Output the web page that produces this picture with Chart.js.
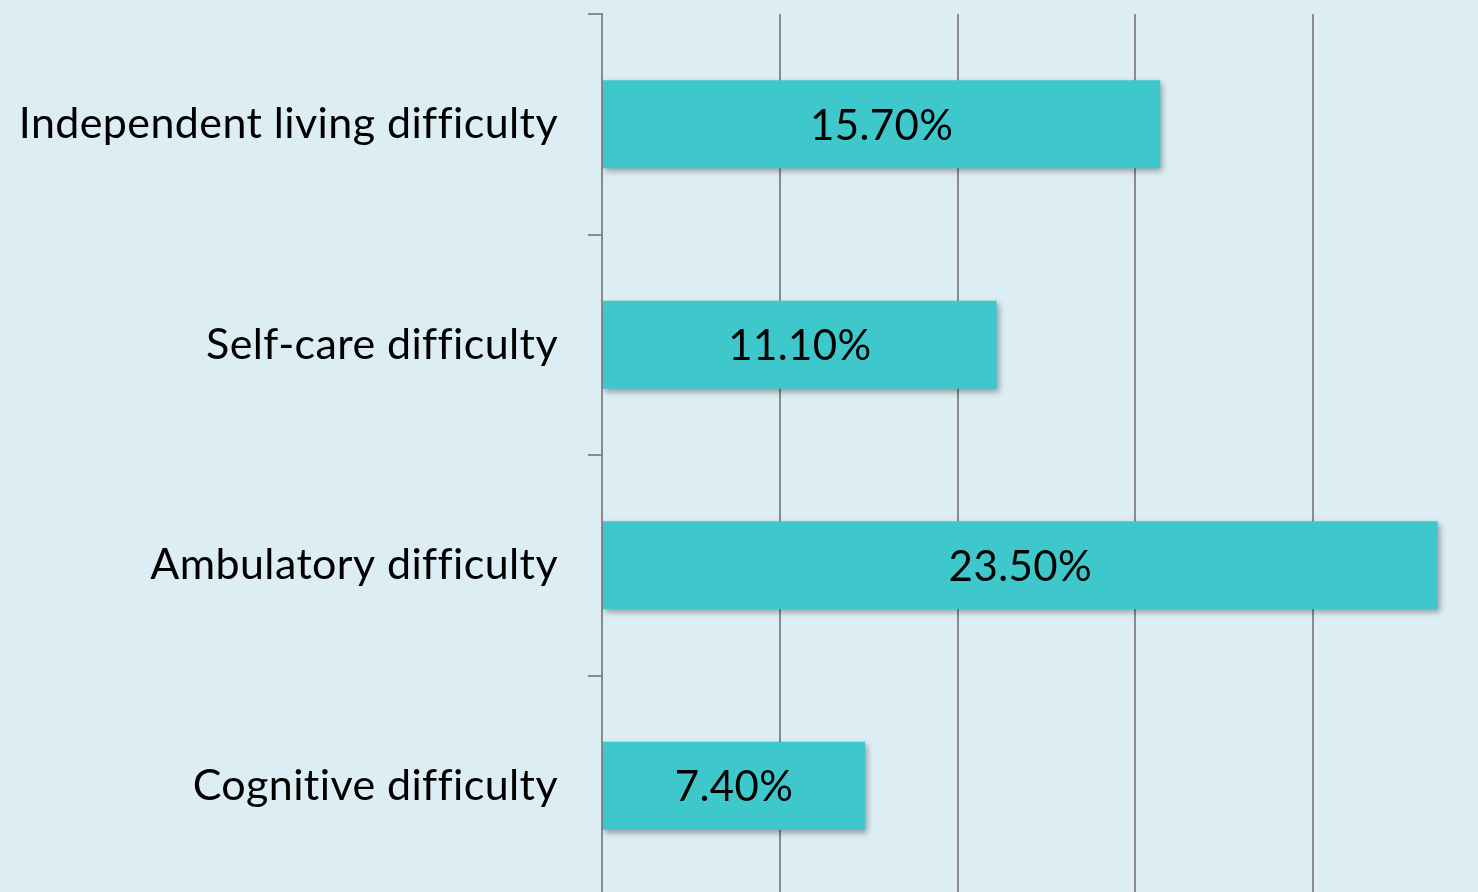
<!DOCTYPE html>
<html>
<head>
<meta charset="utf-8">
<script src="https://cdn.jsdelivr.net/npm/chart.js@4.4.1/dist/chart.umd.min.js"></script>
<style>
  html, body { margin: 0; padding: 0; background: #DCEEF4; overflow: hidden; }
  #wrap { position: absolute; left: 0; top: 0; width: 1500px; height: 900px; }
</style>
</head>
<body>
<div id="wrap"><canvas id="c" width="1500" height="900"></canvas></div>
<script>
const categories = ["Independent living difficulty", "Self-care difficulty", "Ambulatory difficulty", "Cognitive difficulty"];
const values = [15.7, 11.1, 23.5, 7.4];
const valueLabels = ["15.70%", "11.10%", "23.50%", "7.40%"];

const FONT = "Lato, 'Open Sans', sans-serif";
const SPACING = '0.4px';

const shadowPlugin = {
  id: 'barShadow',
  beforeLayout(chart) { chart.ctx.letterSpacing = SPACING; },
  beforeDraw(chart) { chart.ctx.letterSpacing = SPACING; },
  beforeDatasetsDraw(chart) {
    const ctx = chart.ctx;
    ctx.save();
    ctx.shadowColor = 'rgba(0,0,0,0.35)';
    ctx.shadowBlur = 6;
    ctx.shadowOffsetX = 2;
    ctx.shadowOffsetY = 3;
  },
  afterDatasetsDraw(chart) {
    const ctx = chart.ctx;
    ctx.restore();
    const meta = chart.getDatasetMeta(0);
    ctx.save();
    ctx.letterSpacing = SPACING;
    ctx.fillStyle = '#000';
    ctx.font = "42px " + FONT;
    ctx.textAlign = 'center';
    ctx.textBaseline = 'middle';
    meta.data.forEach((bar, i) => {
      const cx = (bar.base + bar.x) / 2;
      ctx.fillText(valueLabels[i], cx, bar.y + 2);
    });
    ctx.restore();
  }
};

new Chart(document.getElementById('c'), {
  type: 'bar',
  data: {
    labels: categories,
    datasets: [{
      data: values,
      backgroundColor: '#3FC8CC',
      borderWidth: 0,
      barPercentage: 0.4,
      categoryPercentage: 1.0
    }]
  },
  options: {
    indexAxis: 'y',
    responsive: false,
    animation: false,
    events: [],
    layout: { padding: { top: 14, right: 9, bottom: 4, left: 0 } },
    plugins: { legend: { display: false }, tooltip: { enabled: false } },
    scales: {
      x: {
        min: 0, max: 25,
        ticks: { display: false, stepSize: 5 },
        grid: { color: '#8A8A8A', lineWidth: 2, drawTicks: false },
        border: { display: false },
        afterFit(scale) { scale.height = 0; scale.paddingLeft = 0; scale.paddingRight = 0; }
      },
      y: {
        ticks: { color: '#000', font: { size: 43, family: FONT }, padding: 30 },
        grid: { drawOnChartArea: false, color: '#8A8A8A', lineWidth: 2, tickLength: 14, offset: true },
        border: { display: true, color: '#8A8A8A', width: 2 },
        afterFit(scale) { scale.width = 602; scale.paddingTop = 0; scale.paddingBottom = 0; }
      }
    }
  },
  plugins: [shadowPlugin]
});
</script>
</body>
</html>
